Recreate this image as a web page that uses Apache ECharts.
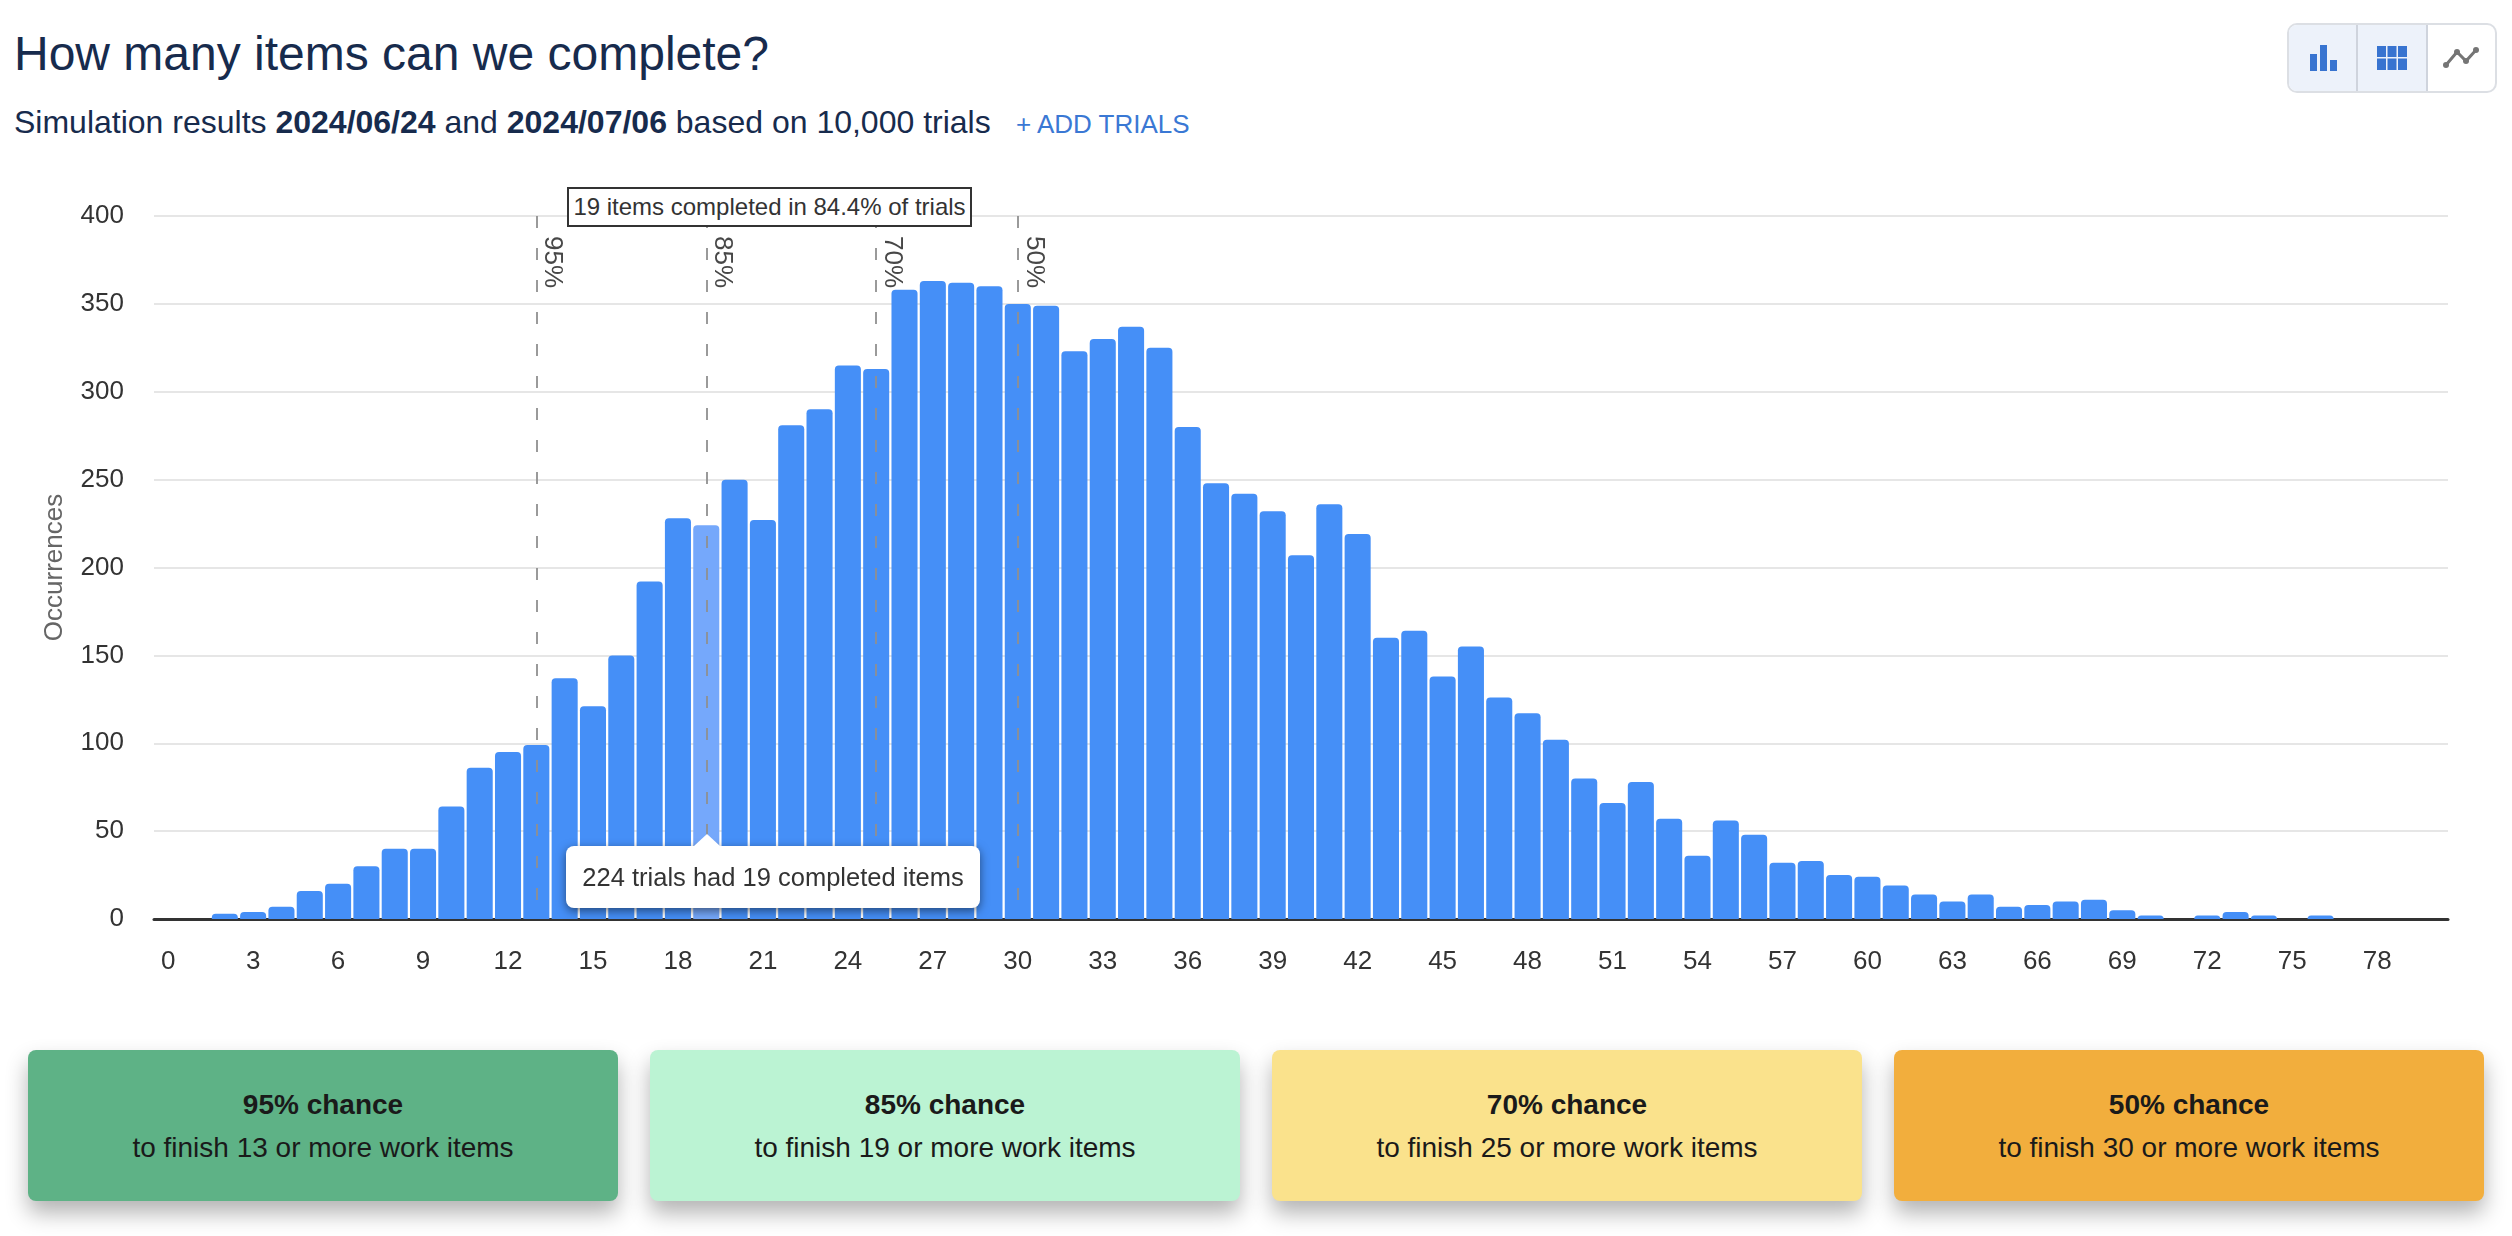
<!DOCTYPE html>
<html>
<head>
<meta charset="utf-8">
<title>How many items can we complete?</title>
<script src="https://cdn.jsdelivr.net/npm/echarts@6/dist/echarts.min.js"></script>
<style>
    html, body { margin: 0; padding: 0; background: #fff; }
    body { width: 2512px; height: 1236px; position: relative; overflow: hidden; font-family: "Liberation Sans", Arial, sans-serif; }
    h1 { position: absolute; left: 14px; top: 25px; margin: 0; font-size: 48px; line-height: 58px; font-weight: 400; color: #172b4d; }
    .sub { position: absolute; left: 14px; top: 104px; font-size: 32px; line-height: 36px; color: #172b4d; white-space: pre; }
    .add { position: absolute; left: 1016px; top: 107px; font-size: 26px; line-height: 34px; color: #3a78d4; }
    #chart { position: absolute; left: 0; top: 150px; width: 2512px; height: 860px; }
    .btns { position: absolute; left: 2287px; top: 23px; width: 210px; height: 70px; display: flex; box-sizing: border-box; border: 2px solid #dcdfe4; border-radius: 10px; overflow: hidden; }
    .btns div { flex: 1; display: flex; align-items: center; justify-content: center; }
    .btns .on { background: #edf2fa; border-right: 2px solid #cfd4dd; }
    .box { position: absolute; left: 567px; top: 187px; width: 405px; height: 40px; box-sizing: border-box; border: 2px solid #333; background: #fff; color: #333; font-size: 24px; line-height: 36px; text-align: center; white-space: nowrap; }
    .tip { position: absolute; left: 566px; top: 846px; width: 414px; height: 62px; background: #fff; border-radius: 8px; color: #333; font-size: 25.500px; line-height: 62px; text-align: center; white-space: nowrap; box-shadow: 0 3px 10px rgba(0,0,0,.5); }
    .tip:before { content: ""; position: absolute; left: 128px; top: -12px; border-left: 13px solid transparent; border-right: 13px solid transparent; border-bottom: 12px solid #fff; }
    .card { position: absolute; top: 1050px; width: 590px; height: 151px; border-radius: 8px; text-align: center; color: #1a1a1a; font-size: 28px; box-shadow: 0 12px 22px rgba(0,0,0,.3); }
    .card b { display: block; margin-top: 37px; line-height: 36px; }
    .card span { display: block; margin-top: 7px; line-height: 36px; }
</style>
</head>
<body>
<h1>How many items can we complete?</h1>
<div class="sub">Simulation results <b>2024/06/24</b> and <b>2024/07/06</b> based on 10,000 trials</div>
<div class="add">+ ADD TRIALS</div>
<div class="btns">
    <div class="on"><svg width="28" height="28" viewBox="0 0 28 28"><path fill="#3874d0" d="M1 10h7v17H1zM11 1h7v26h-7zM21 16h7v11h-7z"/></svg></div>
    <div class="on"><svg width="30" height="24" viewBox="0 0 30 24"><path fill="#3874d0" d="M0 0h9v11H0zM10.500 0h9v11h-9zM21 0h9v11h-9zM0 12.500h9V24H0zM10.500 12.500h9V24h-9zM21 12.500h9V24h-9z"/></svg></div>
    <div><svg width="36" height="22" viewBox="0 0 36 22"><path fill="none" stroke="#757575" stroke-width="3" d="M3 18L14 5L23 14L33 3"/><g fill="#757575"><circle cx="3" cy="18" r="3"/><circle cx="14" cy="5" r="3"/><circle cx="23" cy="14" r="3"/><circle cx="33" cy="3" r="3"/></g></svg></div>
</div>
<div id="chart"></div>
<div class="box">19 items completed in 84.4% of trials</div>
<div class="tip">224 trials had 19 completed items</div>
<div class="card" style="left:28px;background:#5eb286"><b>95% chance</b><span>to finish 13 or more work items</span></div>
<div class="card" style="left:650px;background:#bbf3d3"><b>85% chance</b><span>to finish 19 or more work items</span></div>
<div class="card" style="left:1272px;background:#fae28c"><b>70% chance</b><span>to finish 25 or more work items</span></div>
<div class="card" style="left:1894px;background:#f2ae3d"><b>50% chance</b><span>to finish 30 or more work items</span></div>

<script>
    // occurrences per number of completed items, 0 to 80
    var occurrences = [
        0, 0, 3, 4, 7, 16, 20, 30, 40, 40,
        64, 86, 95, 99, 137, 121, 150, 192, 228, 224,
        250, 227, 281, 290, 315, 313, 358, 363, 362, 360,
        350, 349, 323, 330, 337, 325, 280, 248, 242, 232,
        207, 236, 219, 160, 164, 138, 155, 126, 117, 102,
        80, 66, 78, 57, 36, 56, 48, 32, 33, 25,
        24, 19, 14, 10, 14, 7, 8, 10, 11, 5,
        2, 0, 2, 4, 2, 0, 2, 0, 0, 0, 0
    ];
    var items = occurrences.map(function (v, i) { return String(i); });
    var chanceLines = [
        { item: 13, label: '95%' },
        { item: 19, label: '85%' },
        { item: 25, label: '70%' },
        { item: 30, label: '50%' }
    ];
    var selectedItem = 19;

    var chart = echarts.init(document.getElementById('chart'));
    chart.setOption({
        animation: false,
        textStyle: { fontFamily: '"Liberation Sans", Arial, sans-serif' },
        grid: { left: 154, right: 64, top: 66, bottom: 91 },
        xAxis: {
            type: 'category',
            data: items,
            axisTick: { show: false },
            axisLine: { lineStyle: { color: '#333', width: 3 } },
            axisLabel: { color: '#333', fontSize: 26, margin: 30, interval: 2 }
        },
        yAxis: {
            type: 'value',
            min: 0,
            max: 400,
            interval: 50,
            name: 'Occurrences',
            nameLocation: 'middle',
            nameGap: 86,
            nameTextStyle: { color: '#666', fontSize: 26 },
            axisLine: { show: false },
            axisTick: { show: false },
            axisLabel: { color: '#333', fontSize: 26, margin: 30 },
            splitLine: { lineStyle: { color: '#e6e6e6', width: 2 } }
        },
        series: [{
            type: 'bar',
            barCategoryGap: '8%',
            itemStyle: { color: '#458ff7', borderRadius: [4, 4, 0, 0] },
            data: occurrences.map(function (v, i) {
                return i === selectedItem ? { value: v, itemStyle: { color: '#75a8fb' } } : v;
            }),
            markLine: {
                silent: true,
                symbol: 'none',
                lineStyle: { color: '#8f8f8f', type: [12, 20], width: 2, opacity: 0.9 },
                label: {
                    position: 'insideStartTop',
                    color: '#333',
                    fontSize: 26,
                    distance: [20, 3],
                    formatter: function (p) { return p.name; }
                },
                // drawn from the top down so the dashes start at the 400 line
                data: chanceLines.map(function (c) {
                    return [{ name: c.label, xAxis: c.item, yAxis: 400 }, { xAxis: c.item, yAxis: 0 }];
                })
            }
        }]
    });
</script>
</body>
</html>
